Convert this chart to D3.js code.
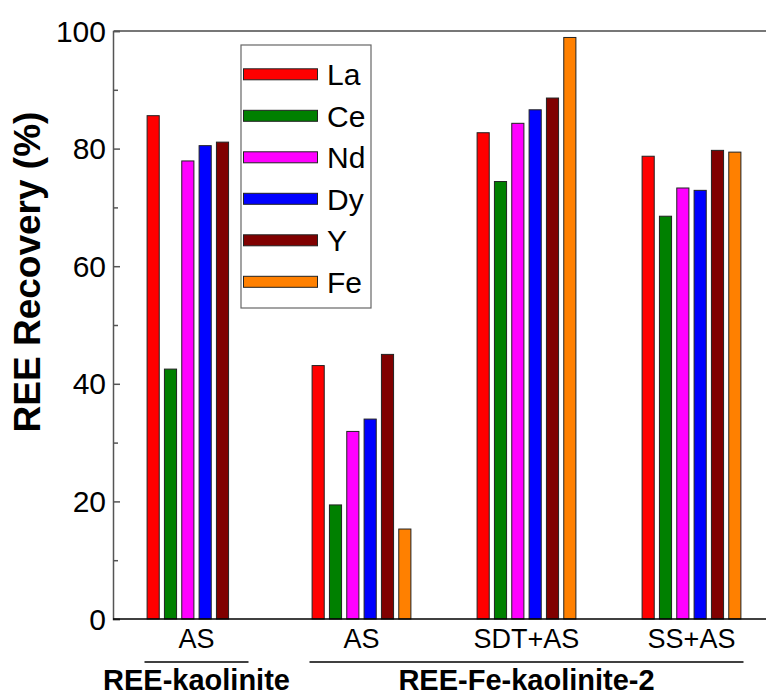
<!DOCTYPE html>
<html>
<head>
<meta charset="utf-8">
<script src="https://cdn.jsdelivr.net/npm/d3@7/dist/d3.min.js"></script>
<style>
  html, body { margin: 0; padding: 0; background: #fff; }
  svg { display: block; font-family: Arial, "Liberation Sans", sans-serif; }
</style>
</head>
<body>
<svg id="chart" width="766" height="695"></svg>
<script>
// Leaching treatments (one bar group each) and the material each was applied to
const treatments = ["AS", "AS", "SDT+AS", "SS+AS"];
const materials = ["REE-kaolinite", "REE-Fe-kaolinite-2", "REE-Fe-kaolinite-2", "REE-Fe-kaolinite-2"];

// Element series and their fill colours
const elements = ["La", "Ce", "Nd", "Dy", "Y", "Fe"];
const colors = ["#ff0000", "#008000", "#ff00ff", "#0000ff", "#800000", "#ff8000"];

// Recovery (%) per element, one value per treatment group (null = not measured)
const La = [85.6, 43.1, 82.7, 78.7];
const Ce = [42.5, 19.4, 74.4, 68.5];
const Nd = [77.9, 31.9, 84.3, 73.3];
const Dy = [80.5, 34.0, 86.6, 72.9];
const Y  = [81.1, 45.0, 88.6, 79.7];
const Fe = [null, 15.3, 98.9, 79.4];
const seriesValues = [La, Ce, Nd, Dy, Y, Fe];

// Axis ticks
const majorTicks = [0, 20, 40, 60, 80, 100];
const minorTicks = [10, 30, 50, 70, 90];

const svg = d3.select("#chart");
const plot = { left: 114, top: 31, bottom: 619, right: 774 };

const x0 = d3.scaleBand()
  .domain(d3.range(treatments.length))
  .range([plot.left, plot.right])
  .paddingInner(0).paddingOuter(0);

const groupHalf = 52;
const x1 = d3.scaleBand()
  .domain(elements)
  .range([-groupHalf, groupHalf])
  .paddingInner(0.3).paddingOuter(0.15);

const y = d3.scaleLinear().domain([0, 100]).range([plot.bottom, plot.top]);

const center = i => x0(i) + x0.bandwidth() / 2;

// Bars
const barData = [];
treatments.forEach((t, i) => {
  elements.forEach((el, k) => {
    const v = seriesValues[k][i];
    if (v != null) barData.push({ i, el, k, v });
  });
});

svg.append("g").selectAll("rect")
  .data(barData)
  .join("rect")
  .attr("x", d => center(d.i) + x1(d.el))
  .attr("y", d => y(d.v))
  .attr("width", x1.bandwidth())
  .attr("height", d => y(0) - y(d.v))
  .attr("fill", d => colors[d.k])
  .attr("stroke", "#222")
  .attr("stroke-width", 1);

// Frame: top and left lines, bottom axis line
svg.append("line")
  .attr("x1", plot.left).attr("x2", 766)
  .attr("y1", plot.top).attr("y2", plot.top)
  .attr("stroke", "#777").attr("stroke-width", 2);

// Left axis with inward ticks
const yAxis = d3.axisRight(y)
  .tickValues(majorTicks)
  .tickSize(7)
  .tickFormat("");
const gy = svg.append("g")
  .attr("transform", `translate(${plot.left - 1},0)`)
  .call(yAxis);
gy.select(".domain").attr("stroke", "#555").attr("stroke-width", 1.5);
gy.selectAll(".tick line").attr("stroke", "#555").attr("stroke-width", 1.5);

const gyMinor = svg.append("g")
  .attr("transform", `translate(${plot.left - 1},0)`)
  .call(d3.axisRight(y).tickValues(minorTicks).tickSize(5).tickFormat(""));
gyMinor.select(".domain").remove();
gyMinor.selectAll(".tick line").attr("stroke", "#555").attr("stroke-width", 1.5);

// Tick labels
svg.append("g").selectAll("text")
  .data(majorTicks)
  .join("text")
  .attr("x", plot.left - 8)
  .attr("y", d => y(d) + 10.5)
  .attr("text-anchor", "end")
  .attr("font-size", 30)
  .attr("fill", "#000")
  .text(d => d);

// Bottom axis line
svg.append("line")
  .attr("x1", plot.left - 1).attr("x2", 766)
  .attr("y1", plot.bottom).attr("y2", plot.bottom)
  .attr("stroke", "#000").attr("stroke-width", 1.5);

// Treatment labels under each group
svg.append("g").selectAll("text")
  .data(treatments)
  .join("text")
  .attr("x", (d, i) => center(i))
  .attr("y", 648)
  .attr("text-anchor", "middle")
  .attr("font-size", 27)
  .text(d => d);

// Material brackets and labels
const materialGroups = d3.groups(treatments.map((t, i) => ({ i, m: materials[i] })), d => d.m);
materialGroups.forEach(([m, items]) => {
  const xa = center(items[0].i) - groupHalf;
  const xb = center(items[items.length - 1].i) + groupHalf;
  svg.append("line")
    .attr("x1", xa).attr("x2", xb)
    .attr("y1", 662).attr("y2", 662)
    .attr("stroke", "#000").attr("stroke-width", 1.5);
  svg.append("text")
    .attr("x", (xa + xb) / 2)
    .attr("y", 690)
    .attr("text-anchor", "middle")
    .attr("font-size", 29)
    .attr("font-weight", "bold")
    .text(m);
});

// Y axis title
svg.append("text")
  .attr("transform", "translate(40,272) rotate(-90)")
  .attr("text-anchor", "middle")
  .attr("font-size", 37)
  .attr("font-weight", "bold")
  .text("REE Recovery (%)");

// Legend
const legend = svg.append("g");
legend.append("rect")
  .attr("x", 241).attr("y", 45)
  .attr("width", 130).attr("height", 263)
  .attr("fill", "#fff")
  .attr("stroke", "#666").attr("stroke-width", 1.2);

const rowY = i => 74.3 + i * 41.5;
const items = legend.selectAll("g.item")
  .data(elements)
  .join("g").attr("class", "item");
items.append("rect")
  .attr("x", 243.5).attr("y", (d, i) => rowY(i) - 5.5)
  .attr("width", 74).attr("height", 11)
  .attr("fill", (d, i) => colors[i])
  .attr("stroke", "#222").attr("stroke-width", 1);
items.append("text")
  .attr("x", 327)
  .attr("y", (d, i) => rowY(i) + 11)
  .attr("font-size", 30)
  .text(d => d);
</script>
</body>
</html>
